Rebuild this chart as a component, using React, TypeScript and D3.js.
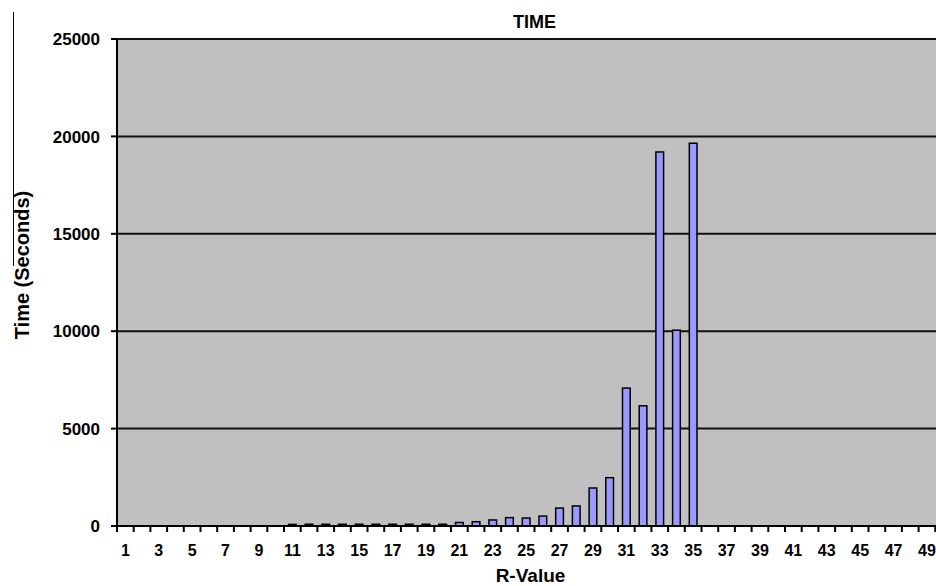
import { useEffect, useRef } from "react";
import * as d3 from "d3";

// R-values 1..50 (chart is cropped on the right, 49 is the last visible label)
const rValues = d3.range(1, 51);
// time in seconds per R-value (0 = no bar)
const times = [
  0, 0, 0, 0, 0, 0, 0, 0, 0, 0,
  80, 90, 90, 90, 90, 90, 90, 90, 90, 90,
  180, 220, 310, 430, 410, 510, 920, 1030, 1950, 2480,
  7080, 6170, 19200, 10050, 19650, 0, 0, 0, 0, 0,
  0, 0, 0, 0, 0, 0, 0, 0, 0, 0,
];
const yTicks = [0, 5000, 10000, 15000, 20000, 25000];

const width = 936;
const height = 586;

export default function App() {
  const svgRef = useRef<SVGSVGElement>(null);

  useEffect(() => {
    if (!svgRef.current) return;
    const svg = d3.select(svgRef.current);
    svg.selectAll("*").remove();

    const left = 117;
    const top = 39;
    const bottom = 526;
    const step = 16.7;
    const right = left + step * rValues.length;

    const x = d3.scaleBand<number>().domain(rValues).range([left, right]).padding(0);
    const y = d3.scaleLinear().domain([0, 25000]).range([bottom, top]);

    const font = "'Liberation Sans', Arial, sans-serif";

    // outer frame remnant on the left
    svg.append("line")
      .attr("x1", 13.5).attr("x2", 13.5).attr("y1", 12).attr("y2", 266)
      .attr("stroke", "#000").attr("stroke-width", 1);

    // plot area background
    svg.append("rect")
      .attr("x", left).attr("y", top)
      .attr("width", right - left).attr("height", bottom - top)
      .attr("fill", "#c0c0c0");

    // gridlines
    svg.append("g")
      .selectAll("line")
      .data(yTicks.filter((d) => d > 0))
      .join("line")
      .attr("x1", left).attr("x2", right)
      .attr("y1", (d) => y(d)).attr("y2", (d) => y(d))
      .attr("stroke", "#111").attr("stroke-width", 2);

    // bars
    const barW = x.bandwidth() * 0.46;
    svg.append("g")
      .selectAll("rect")
      .data(rValues.map((r, i) => ({ r, t: times[i] })).filter((d) => d.t > 0))
      .join("rect")
      .attr("x", (d) => x(d.r)! + (x.bandwidth() - barW) / 2)
      .attr("y", (d) => y(d.t))
      .attr("width", barW)
      .attr("height", (d) => bottom - y(d.t))
      .attr("fill", "#9999ff")
      .attr("stroke", "#000")
      .attr("stroke-width", 1.5);

    // axes lines
    svg.append("line")
      .attr("x1", left).attr("x2", left).attr("y1", top).attr("y2", bottom)
      .attr("stroke", "#000").attr("stroke-width", 2);
    svg.append("line")
      .attr("x1", left - 6).attr("x2", right).attr("y1", bottom).attr("y2", bottom)
      .attr("stroke", "#000").attr("stroke-width", 2);

    // y ticks + labels
    const yg = svg.append("g");
    yg.selectAll("line")
      .data(yTicks)
      .join("line")
      .attr("x1", left - 6).attr("x2", left)
      .attr("y1", (d) => y(d)).attr("y2", (d) => y(d))
      .attr("stroke", "#000").attr("stroke-width", 2);
    yg.selectAll("text")
      .data(yTicks)
      .join("text")
      .attr("x", 100)
      .attr("y", (d) => y(d))
      .attr("dy", "0.36em")
      .attr("text-anchor", "end")
      .attr("font-family", font)
      .attr("font-weight", "bold")
      .attr("font-size", 17)
      .text((d) => String(d));

    // x ticks at band boundaries
    svg.append("g")
      .selectAll("line")
      .data(d3.range(rValues.length + 1))
      .join("line")
      .attr("x1", (i) => left + i * x.step())
      .attr("x2", (i) => left + i * x.step())
      .attr("y1", bottom).attr("y2", bottom + 6)
      .attr("stroke", "#000").attr("stroke-width", 2);

    // x labels, odd values only
    svg.append("g")
      .selectAll("text")
      .data(rValues.filter((r) => r % 2 === 1))
      .join("text")
      .attr("x", (r) => x(r)! + x.bandwidth() / 2)
      .attr("y", 556)
      .attr("text-anchor", "middle")
      .attr("font-family", font)
      .attr("font-weight", "bold")
      .attr("font-size", 16)
      .text((r) => String(r));

    // titles
    svg.append("text")
      .attr("x", (left + right) / 2).attr("y", 28)
      .attr("text-anchor", "middle")
      .attr("font-family", font).attr("font-weight", "bold").attr("font-size", 18)
      .text("TIME");

    svg.append("text")
      .attr("x", (left + right) / 2 - 4).attr("y", 582)
      .attr("text-anchor", "middle")
      .attr("font-family", font).attr("font-weight", "bold").attr("font-size", 19)
      .text("R-Value");

    svg.append("text")
      .attr("transform", `translate(29, ${265}) rotate(-90)`)
      .attr("text-anchor", "middle")
      .attr("font-family", font).attr("font-weight", "bold").attr("font-size", 20)
      .text("Time (Seconds)");
  }, []);

  return (
    <svg
      ref={svgRef}
      width={width}
      height={height}
      style={{ position: "absolute", left: 0, top: 0, background: "#fff" }}
      viewBox={`0 0 ${width} ${height}`}
    />
  );
}
